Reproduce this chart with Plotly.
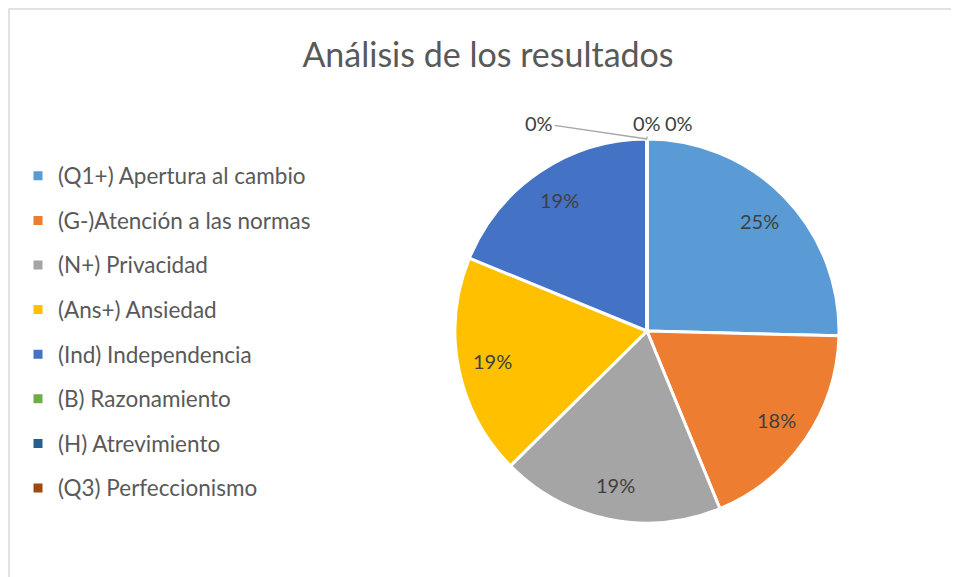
import math
import plotly.graph_objects as go

title = "Análisis de los resultados"
categories = [
    "(Q1+) Apertura al cambio",
    "(G-)Atención a las normas",
    "(N+) Privacidad",
    "(Ans+) Ansiedad",
    "(Ind) Independencia",
    "(B) Razonamiento",
    "(H) Atrevimiento",
    "(Q3) Perfeccionismo",
]
values = [25.4, 18.4, 18.8, 18.6, 18.8, 0, 0, 0]
colors = ["#5B9BD5", "#ED7D31", "#A5A5A5", "#FFC000", "#4472C4", "#70AD47", "#255E91", "#9E480E"]

# page body has an 8px margin, so the figure is drawn 8px in from the window edge
W, H = 951, 569
FONT = "Lato"
LABEL_COLOR = "#404040"
pie_x = [447 / W, 831 / W]
pie_y = [1 - 515 / H, 1 - 131 / H]

legend_labels = ['<span style="font-size:22.5px;baseline-shift:4px">%s</span>' % c for c in categories]

fig = go.Figure()
fig.add_trace(go.Pie(
    labels=legend_labels,
    values=values,
    sort=False,
    direction="clockwise",
    rotation=0,
    marker=dict(colors=colors, line=dict(color="white", width=3)),
    textinfo="none",
    domain=dict(x=pie_x, y=pie_y),
    hoverinfo="percent",
))

# percentage labels placed like Excel's "best fit" (inside, near the rim)
cx = (pie_x[0] + pie_x[1]) / 2
cy = (pie_y[0] + pie_y[1]) / 2
R = (pie_x[1] - pie_x[0]) * W / 2
total = sum(values)
annotations = []
cum = 0.0
for v in values:
    if v > 0:
        mid = (cum + v / 2) / total * 2 * math.pi
        r = 0.82 * R
        annotations.append(dict(
            x=cx + r * math.sin(mid) / W, y=cy + r * math.cos(mid) / H,
            xref="paper", yref="paper", xanchor="center", yanchor="middle",
            text="%d%%" % round(v / total * 100), showarrow=False,
            font=dict(family=FONT, size=20, color=LABEL_COLOR),
        ))
    cum += v

# labels for the zero-valued slices (Plotly does not draw zero slices)
top_y = pie_y[1]
zero_idx = [i for i, v in enumerate(values) if v == 0]
zero_offsets = [(-108, -16), (0, -16), (32, -16)]
for k, i in enumerate(zero_idx):
    dx, dy = zero_offsets[k]
    if k < 2:
        annotations.append(dict(
            x=cx, y=top_y, xref="paper", yref="paper",
            text="0%", showarrow=True, arrowhead=0, arrowcolor="#A6A6A6", arrowwidth=1.3,
            ax=dx, ay=dy, standoff=0,
            font=dict(family=FONT, size=20, color=LABEL_COLOR),
        ))
    else:
        annotations.append(dict(
            x=cx + dx / W, y=top_y - dy / H, xref="paper", yref="paper",
            xanchor="center", yanchor="middle",
            text="0%", showarrow=False,
            font=dict(family=FONT, size=20, color=LABEL_COLOR),
        ))

fig.update_layout(
    width=W, height=H,
    margin=dict(l=0, r=0, t=0, b=0),
    paper_bgcolor="white",
    title=dict(text=title, x=480 / W, y=1 - 47 / H, xanchor="center", yanchor="middle",
               font=dict(family=FONT, size=34, color="#595959")),
    legend=dict(x=10 / W, y=1 - 140.5 / H, xanchor="left", yanchor="top",
                font=dict(family=FONT, size=32, color="#595959"), bgcolor="rgba(0,0,0,0)"),
    annotations=annotations,
    shapes=[dict(type="rect", xref="paper", yref="paper", x0=1 / W, x1=1.05, y0=-0.05, y1=1 - 1 / H,
                 line=dict(color="#D9D9D9", width=1.5), fillcolor="rgba(0,0,0,0)")],
)

fig.write_html("out.html")
